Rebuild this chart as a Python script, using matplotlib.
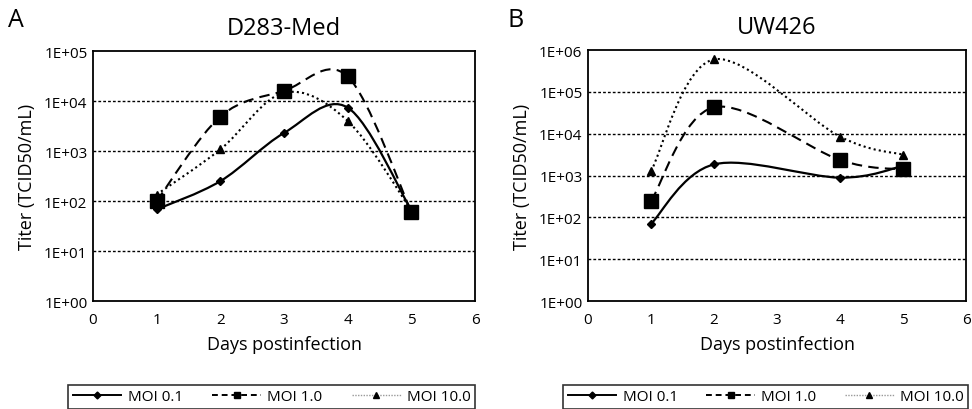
import matplotlib
matplotlib.use("Agg")
import matplotlib.pyplot as plt
import numpy as np
from matplotlib.path import Path
from matplotlib.patches import PathPatch
from matplotlib.lines import Line2D

plt.rcParams['font.family'] = ['Open Sans', 'DejaVu Sans']

# D283-Med
days_a = [1, 2, 3, 4, 5]
moi01_a = [68, 250, 2300, 7400, 65]
moi1_a = [100, 4900, 16000, 31000, 61]
moi10_a = [135, 1080, 14700, 4000, 65]

# UW426
days_b = [1, 2, 4, 5]
moi01_b = [70, 1850, 890, 1700]
moi1_b = [245, 43000, 2350, 1400]
moi10_b = [1280, 600000, 8500, 3150]

series_labels = ['MOI 0.1', 'MOI 1.0', 'MOI 10.0']
styles = [('-', 'D', 4.5), ((0, (5, 3)), 's', 10), ((0, (1, 1.5)), '^', 6)]


def smooth_path(x, y):
    # excel-like smoothed line: bezier through points in (x, log y) space
    ly = np.log10(y)
    pts = np.column_stack([np.array(x, float), ly])
    n = len(pts)
    verts = [pts[0]]
    codes = [Path.MOVETO]
    for i in range(n - 1):
        p0 = pts[i - 1] if i > 0 else pts[i]
        p1 = pts[i]
        p2 = pts[i + 1]
        p3 = pts[i + 2] if i + 2 < n else pts[i + 1]
        c1 = p1 + (p2 - p0) / 6.0
        c2 = p2 - (p3 - p1) / 6.0
        verts += [c1, c2, p2]
        codes += [Path.CURVE4] * 3
    verts = np.array(verts)
    verts[:, 1] = 10 ** verts[:, 1]
    return Path(verts, codes)


def draw_panel(ax, days, data, ymax, title, letter, lx):
    for vals, (ls, mk, ms) in zip(data, styles):
        patch = PathPatch(smooth_path(days, vals), fill=False, edgecolor='black',
                          linestyle=ls, linewidth=1.6 if ls == '-' else 1.5)
        ax.add_patch(patch)
        ax.plot(days, vals, linestyle='none', marker=mk, markersize=ms, color='black')
    ax.set_yscale('log')
    ax.set_xlim(0, 6)
    ax.set_ylim(1, ymax)
    ax.set_xticks(range(7))
    ticks = [10 ** k for k in range(int(np.log10(ymax)) + 1)]
    ax.set_yticks(ticks)
    ax.set_yticklabels(['1E+%02d' % k for k in range(len(ticks))])
    ax.minorticks_off()
    ax.tick_params(axis='x', length=0, labelsize=11, pad=8)
    ax.tick_params(axis='y', length=0, labelsize=11, pad=4)
    for t in ticks[1:-1]:
        ax.axhline(t, color='black', linestyle=(0, (2, 1.5)), linewidth=1.0)
    for s in ax.spines.values():
        s.set_linewidth(1.3)
    ax.set_title(title, fontsize=17, pad=12)
    ax.set_xlabel('Days postinfection', fontsize=13, labelpad=6)
    ax.set_ylabel('Titer (TCID50/mL)', fontsize=13, labelpad=6)
    ax.figure.text(lx, 0.95, letter, fontsize=18, va='center', ha='left')


fig = plt.figure(figsize=(9.72, 4.10), dpi=100)
ax_a = fig.add_axes([0.0957, 0.2634, 0.393, 0.6096])
ax_b = fig.add_axes([0.605, 0.2634, 0.389, 0.6120])

draw_panel(ax_a, days_a, [moi01_a, moi1_a, moi10_a], 1e5, 'D283-Med', 'A', 0.008)
draw_panel(ax_b, days_b, [moi01_b, moi1_b, moi10_b], 1e6, 'UW426', 'B', 0.522)

handles = [
    Line2D([], [], color='black', linestyle='-', marker='D', markersize=3.5, linewidth=1.4),
    Line2D([], [], color='black', linestyle=(0, (3, 2)), marker='s', markersize=5, linewidth=1.4),
    Line2D([], [], color='#999999', linestyle=(0, (1, 1)), marker='^', markersize=5,
           markerfacecolor='black', markeredgecolor='black', linewidth=1.0),
]
for ax, x0, x1 in [(ax_a, 68, 475), (ax_b, 563, 968)]:
    leg = ax.legend(handles, series_labels, ncol=3, loc='lower left', mode='expand',
                    bbox_to_anchor=(x0 / 972, 0.0, (x1 - x0) / 972, 27 / 410),
                    bbox_transform=fig.transFigure, frameon=True, fancybox=False,
                    fontsize=11, handlelength=3.2, handletextpad=0.4,
                    borderaxespad=0, borderpad=0.3, columnspacing=1.0)
    leg.get_frame().set_edgecolor('black')
    leg.get_frame().set_linewidth(1.2)

fig.savefig('out.png', dpi=100)
